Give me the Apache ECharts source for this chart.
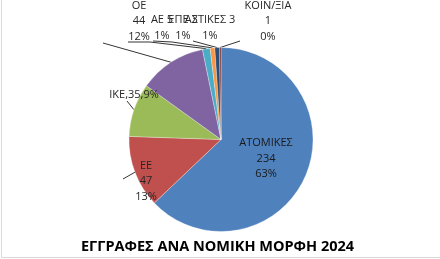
<!DOCTYPE html>
<html><head><meta charset="utf-8">
<script src="https://cdn.jsdelivr.net/npm/echarts@6/dist/echarts.min.js"></script>
<style>html,body{margin:0;padding:0;background:#fff}#c{width:440px;height:259px}</style>
</head><body><div id="c"></div>
<script>
const categories = ['ΑΤΟΜΙΚΕΣ','ΕΕ','ΙΚΕ','ΟΕ','ΑΕ','ΕΠΕ','ΑΣΤΙΚΕΣ','ΚΟΙΝ/ΞΙΑ'];
const values = [234, 47, 35, 44, 5, 3, 3, 1];
const percents = ['63%','13%','9%','12%','1%','1%','1%','0%'];
const colors = ['#4F81BD','#C0504D','#9BBB59','#8064A2','#4BACC6','#F79646','#2C4D75','#772C2A'];
const titleText = 'ΕΓΓΡΑΦΕΣ ΑΝΑ ΝΟΜΙΚΗ ΜΟΡΦΗ 2024';

// label text layout
function labelText(i){
  const c = categories[i], v = values[i], p = percents[i];
  if (i === 2) return c + ',' + v + ',' + p;
  if (i >= 4 && i <= 6) return c + ' ' + v + '\n' + p;
  return c + '\n' + v + '\n' + p;
}
// label positions (centre of text block) and leader-line ends
const labelPos = [null,[146,181],[134,95],[139,21],[162,28],[183,28],[210,28],[268,21]];
const lineEnds = [null,[[123,179]],[[127,101]],[[103,43]],[[150,42],[128,42]],[[172,42],[153,41]],[[193,41]],[[240,41]]];

const chart = echarts.init(document.getElementById('c'), null, {renderer:'canvas'});
const font = 'Open Sans';
chart.setOption({
  animation:false,
  color: colors,
  title:{ text:titleText, left:76, top:234, textStyle:{fontFamily:font, fontWeight:'bold', fontSize:14.5, color:'#000'} },
  graphic:[{type:'rect', shape:{x:1.5,y:-5,width:450,height:262.5}, style:{fill:'none', stroke:'#d9d9d9', lineWidth:1}, silent:true}],
  series:[{
    type:'pie',
    center:[221,139.5],
    radius:92,
    startAngle:90,
    clockwise:true,
    avoidLabelOverlap:false,
    itemStyle:{borderColor:'#fff', borderWidth:0.3},
    label:{
      show:true, position:'outside', formatter:p=>labelText(p.dataIndex),
      fontFamily:font, fontSize:11, lineHeight:15.5, color:'#262626', align:'center'
    },
    labelLine:{show:true, length:5, length2:5, lineStyle:{color:'#000', width:0.8}},
    labelLayout:function(params){
      const i = params.dataIndex;
      if (!labelPos[i]) return {};
      const start = params.labelLinePoints ? params.labelLinePoints[0] : [0,0];
      const ends = lineEnds[i];
      const pts = [start].concat(ends);
      while (pts.length < 3) pts.push(pts[pts.length-1]);
      return {x:labelPos[i][0], y:labelPos[i][1], align:'center', verticalAlign:'middle', labelLinePoints:pts};
    },
    data: categories.map((c,i)=>({
      name:c, value:values[i],
      label: i===0 ? {position:'inside', color:'#1a1a1a'} : {},
      labelLine: i===0 ? {show:false} : {}
    }))
  }]
});
</script></body></html>
